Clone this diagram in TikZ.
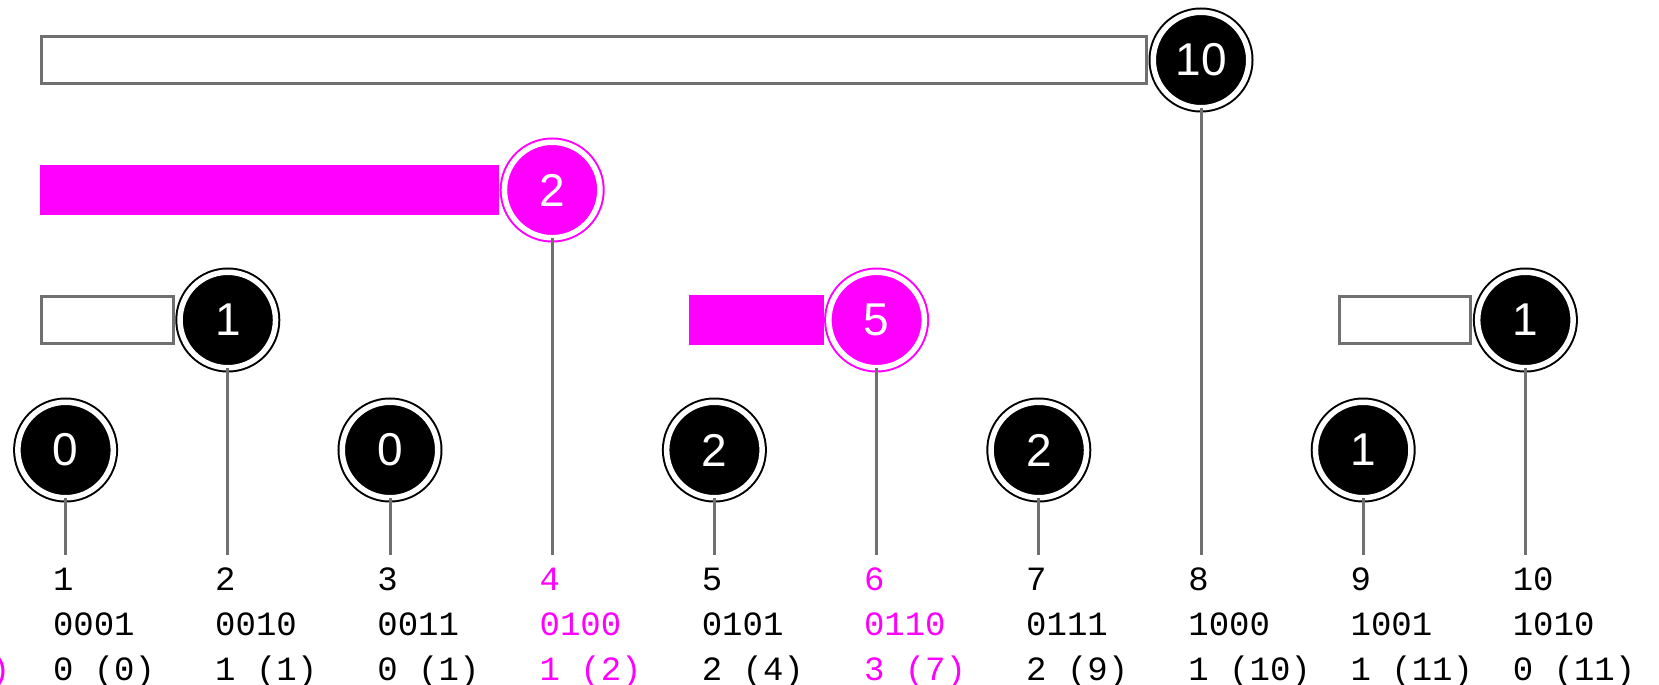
\documentclass[tikz,border=0pt]{standalone}
\usepackage{fontspec}
\newfontfamily\monofont{Liberation Mono}
\newfontfamily\beadfont{Liberation Sans}
\definecolor{mag}{RGB}{255,0,255}
\definecolor{linegray}{RGB}{112,112,112}
\begin{document}
\begin{tikzpicture}[x=1pt,y=-1pt,
  bead/.style={circle, inner sep=0pt, outer sep=0pt, minimum size=95.5pt,
    fill=#1, draw=#1, line width=2pt, double=white, double distance=5.5pt,
    text=white, font=\beadfont\fontsize{46}{46}\selectfont},
  stem/.style={draw=linegray, line width=3pt},
  bar black/.style={draw=linegray, fill=white, line width=3pt},
  bar mag/.style={draw=mag, fill=mag, line width=3pt},
  lbl/.style={inner sep=0pt, outer sep=0pt, anchor=base west,
    font=\monofont\fontsize{34}{40}\selectfont}]
\useasboundingbox (0,0) rectangle (1659,685);
\foreach \i/\v/\L/\s/\c/\bin/\cum in {
  1/0/0/1/black/0001/0 (0),
  2/1/1/1/black/0010/1 (1),
  3/0/0/3/black/0011/0 (1),
  4/2/2/1/mag/0100/1 (2),
  5/2/0/5/black/0101/2 (4),
  6/5/1/5/mag/0110/3 (7),
  7/2/0/7/black/0111/2 (9),
  8/10/3/1/black/1000/1 (10),
  9/1/0/9/black/1001/1 (11),
  10/1/1/9/black/1010/0 (11)}{
  \pgfmathsetmacro\xx{65.6+162.2*(\i-1)}
  \pgfmathsetmacro\yy{450-130*\L}
  \pgfmathsetmacro\xs{65.6+162.2*(\s-1)-24}
  \ifnum\L>0
    \path[bar \c] (\xs,\yy-23.5) rectangle (\xx-54.5,\yy+23.5);
  \fi
  \node[bead=\c] (c\i) at (\xx,\yy) {\v};
  \coordinate (e\i) at (\xx,555);
  \draw[stem] (c\i.south) -- (e\i);
  \node[lbl, text=\c] (ta\i) at (\xx-12.6,590) {\i};
  \node[lbl, text=\c] (tb\i) at (\xx-12.6,635) {\bin};
  \node[lbl, text=\c] (tc\i) at (\xx-12.6,680) {\cum};
}
\node[lbl, text=mag] (tc0) at (-10,680) {)};
\end{tikzpicture}
\end{document}
